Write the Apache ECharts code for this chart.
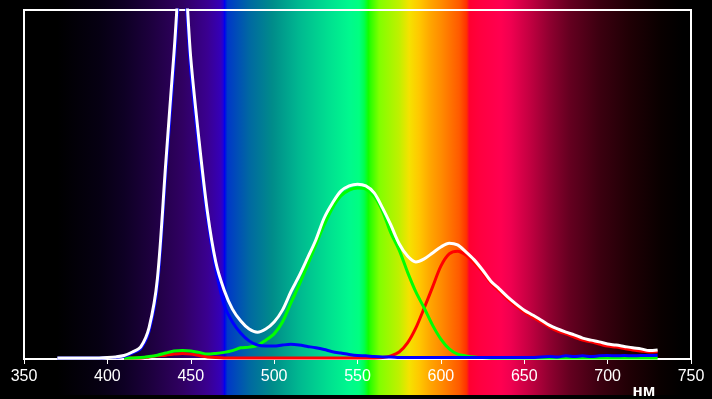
<!DOCTYPE html>
<html><head><meta charset="utf-8">
<script src="https://cdn.jsdelivr.net/npm/echarts@6/dist/echarts.min.js"></script>
<style>html,body{margin:0;padding:0;background:#000;}#c{width:712px;height:399px;}</style>
</head><body><div id="c"></div>
<script>
// wavelength (nm)
const wavelengths = [370,375,380,385,390,395,400,405,410,415,420,425,430,435,440,445,450,455,460,465,470,475,480,485,490,495,500,505,510,515,520,525,530,535,540,545,550,555,560,565,570,575,580,585,590,595,600,605,610,615,620,625,630,635,640,645,650,655,660,665,670,675,680,685,690,695,700,705,710,715,720,725,730];
// total (white)
const whiteVals = [0.3,0.3,0.3,0.3,0.3,0.3,0.4,0.6,1.0,2.0,3.5,9.0,23,56,88,118,86.2,62.5,42.1,27.8,19.8,14.3,10.9,8.6,7.7,8.6,10.6,14.0,19.2,23.8,28.9,34.1,40.4,44.7,48.1,49.6,50.1,49.6,47.6,43.3,38.4,33.0,29.5,27.8,28.7,30.4,32.1,33.2,32.7,30.7,28.4,25.5,22.3,20.1,17.8,15.8,14.0,12.6,11.2,9.7,8.6,7.7,6.9,6.0,5.4,4.9,4.3,4.0,3.6,3.2,2.9,2.4,2.6];
// red channel
const redVals = [null,null,null,null,null,null,null,null,0.3,0.3,0.3,0.6,0.9,1.1,1.4,1.6,1.4,1.0,0.6,0.4,0.3,0.3,0.3,0.3,0.3,0.3,0.3,0.3,0.3,0.3,0.3,0.3,0.3,0.3,0.3,0.3,0.3,0.3,0.3,0.4,0.9,2.0,4.6,8.9,14.6,20.6,26.6,30.1,30.9,29.8,27.5,24.9,21.8,19.5,17.2,15.2,13.5,12.0,10.6,9.2,8.0,7.2,6.3,5.4,4.9,4.3,3.7,3.4,3.0,2.6,2.3,2.0,2.1];
// green channel
const greenVals = [null,null,null,null,null,null,null,null,0.3,0.3,0.4,0.7,1.1,1.7,2.3,2.4,2.3,1.9,1.4,1.6,1.9,2.4,3.2,3.4,3.9,5.4,7.2,10.6,16.0,21.2,26.9,32.7,38.4,43.3,46.7,48.4,49.0,48.7,46.7,42.4,36.1,31.2,24.9,19.2,14.6,9.7,5.7,2.9,1.4,0.9,0.6,0.4,0.3,0.3,0.3,0.3,0.3,0.3,0.3,0.3,0.3,0.3,0.3,0.3,0.3,0.3,0.3,0.3,0.3,0.3,0.3,0.3,0.3];
// blue channel
const blueVals = [0.3,0.3,0.3,0.3,0.3,0.3,0.4,0.5,0.8,1.7,3.0,8.0,21,53.2,84.3,114,82.5,59.6,40.1,25.8,15.5,10.6,7.4,5.2,4.0,3.7,3.7,4.0,4.2,4.0,3.6,3.2,2.7,2.1,1.7,1.3,1.0,0.9,0.7,0.6,0.6,0.4,0.4,0.4,0.4,0.4,0.4,0.4,0.4,0.4,0.4,0.4,0.4,0.4,0.4,0.4,0.4,0.4,0.6,0.7,0.6,0.9,0.7,0.9,0.7,0.9,1.0,0.9,1.0,0.9,1.0,1.0,1.1];
// axis tick labels
const xTicks = [350,400,450,500,550,600,650,700,750];
const unitLabel = 'нм';

// background spectrum (style)
const spectrumNm = [300,370,395,410,425,445,460,468,469.5,470.2,472,485,499,515,533,545,551,554,556.5,558,563,575,581,587,594,600,611,615.5,617,624,636,642,654,665,677,695,713,731,745,800];
const spectrumColors = ['#000000','#000000','#060012','#0e0024','#1c003c','#300062','#3a0090','#3500b8','#2000d8','#0000f0','#0038c8','#0068a2','#008c8a','#00b890','#00e090','#00f88e','#00ff80','#00ff50','#10ff00','#30ff00','#80ff00','#c0f000','#f5e200','#ffc800','#ffa400','#ff8c00','#ff5a00','#ff3000','#ff0030','#ff0040','#ff0050','#f00050','#c00040','#900030','#650020','#3c0010','#200005','#0a0000','#000000','#000000'];

const pairs = vals => wavelengths.map((w, i) => [w, vals[i]]);
const chart = echarts.init(document.getElementById('c'));
const FONT = '"Liberation Sans", Arial, sans-serif';
const mkLine = (name, vals, color) => ({
  name, type: 'line', data: pairs(vals), showSymbol: false, smooth: 0.3,
  xAxisIndex: 0, yAxisIndex: 0, connectNulls: false,
  lineStyle: { color, width: 3 }, itemStyle: { color }
});
chart.setOption({
  animation: false,
  backgroundColor: '#000',
  grid: [
    { left: 24, right: 21, top: 10, bottom: 40, show: true, borderColor: '#fff', borderWidth: 2, backgroundColor: 'transparent' },
    { left: 117, width: 567, top: 395, height: 4, show: false }
  ],
  xAxis: [
    { type: 'value', gridIndex: 0, min: xTicks[0], max: xTicks[xTicks.length-1], interval: xTicks[1]-xTicks[0],
      axisLine: { lineStyle: { color: '#fff', width: 2 } },
      axisTick: { length: 5, lineStyle: { color: '#fff', width: 1 } },
      axisLabel: { color: '#fff', fontSize: 16, margin: 10, fontFamily: FONT },
      splitLine: { show: false } },
    { type: 'value', gridIndex: 1, min: 0, max: 340, interval: 20, position: 'top',
      axisLine: { show: false },
      axisTick: { show: true, inside: true, length: 4, lineStyle: { color: '#b0b0b0', width: 1 } },
      axisLabel: { show: false }, splitLine: { show: false } }
  ],
  yAxis: [
    { type: 'value', gridIndex: 0, min: 0, max: 100, show: false, splitLine: { show: false } },
    { type: 'value', gridIndex: 1, show: false, splitLine: { show: false } }
  ],
  series: [
    mkLine('red', redVals, '#ff0000'),
    mkLine('green', greenVals, '#00ff00'),
    mkLine('blue', blueVals, '#0000ff'),
    mkLine('white', whiteVals, '#ffffff')
  ]
});
const W = 712;
const stops = spectrumNm.map((nm, i) => ({
  offset: Math.min(1, Math.max(0, chart.convertToPixel({ xAxisIndex: 0 }, nm) / W)),
  color: spectrumColors[i]
}));
for (let i = 1; i < stops.length; i++) if (stops[i].offset < stops[i-1].offset) stops[i].offset = stops[i-1].offset;
chart.setOption({
  graphic: [
    { type: 'rect', z: -100, silent: true, shape: { x: 0, y: 0, width: W, height: 395 },
      style: { fill: new echarts.graphic.LinearGradient(0, 0, 1, 0, stops) } },
    { type: 'text', z: 100, silent: true, x: 644, y: 391,
      style: { text: unitLabel, fill: '#fff', font: 'bold 17px ' + FONT, align: 'center', verticalAlign: 'middle', textAlign: 'center', textVerticalAlign: 'middle' } }
  ]
});
</script></body></html>
